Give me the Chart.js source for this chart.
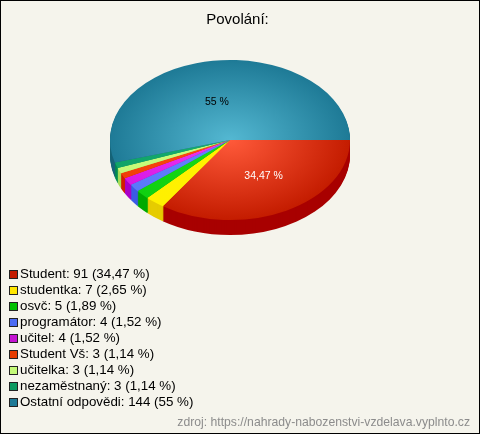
<!DOCTYPE html>
<html>
<head>
<meta charset="utf-8">
<style>
    html, body { margin: 0; padding: 0; background: #f5f4ec; }
    canvas { display: block; }
</style>
<script src="https://cdn.jsdelivr.net/npm/chart.js@4"></script>
</head>
<body>
<canvas id="myChart" width="480" height="434"></canvas>
<script>
// Data
const categories = ['Student', 'studentka', 'osvč', 'programátor', 'učitel', 'Student Vš', 'učitelka', 'nezaměstnaný', 'Ostatní odpovědi'];
const answers = [91, 7, 5, 4, 4, 3, 3, 3, 144];
const percents = ['34,47', '2,65', '1,89', '1,52', '1,52', '1,14', '1,14', '1,14', '55'];

// Slice colours
const innerColors = ['#ff5a3a', '#fff200', '#18dc18', '#6484ff', '#ee3cf4', '#ff4a14', '#ccff80', '#16ac70', '#54b8d2'];
const outerColors = ['#c41c00', '#fff000', '#10d010', '#5a78fa', '#d818e4', '#f04008', '#c4fa78', '#10a468', '#1e7a96'];
const sideColors = ['#a80000', '#e6cc00', '#00aa00', '#3c5ae6', '#aa00c8', '#d21e00', '#a8dc5a', '#008c50', '#176478'];
const swatchColors = ['#c41c00', '#ffe600', '#00c000', '#4c6cf4', '#c414d2', '#e63c00', '#c4fa78', '#0c9a60', '#1e7a96'];

// Labels sit a little off the arc centre in the reference
const sliceLabels = { 0: { color: '#ffffff', dx: 5.5, dy: 1 }, 8: { color: '#000000', dx: -4.5, dy: 2 } };

const PIE_Y = 140;
const SQUASH = 2 / 3;
const DEPTH = 15;

function sliceGradient(context) {
    const chart = context.chart;
    const i = context.dataIndex;
    const area = chart.chartArea;
    if (!area) return outerColors[i];
    const x = (area.left + area.right) / 2;
    const y = (area.top + area.bottom) / 2;
    const r = Math.min(area.width, area.height) / 2;
    const g = chart.ctx.createRadialGradient(x, y, 0, x, y, r);
    g.addColorStop(0, innerColors[i]);
    g.addColorStop(1, outerColors[i]);
    return g;
}

function squash(ctx, arc) {
    ctx.translate(0, PIE_Y);
    ctx.scale(1, SQUASH);
    ctx.translate(0, -arc.y);
}

// Tilts the pie and puts the side wall under it
const tiltPlugin = {
    id: 'tilt',
    beforeDatasetsDraw(chart) {
        const ctx = chart.ctx;
        const arcs = chart.getDatasetMeta(0).data;
        for (let d = DEPTH; d >= 1; d--) {
            arcs.forEach((arc, i) => {
                ctx.save();
                ctx.translate(0, d);
                squash(ctx, arc);
                ctx.beginPath();
                ctx.moveTo(arc.x, arc.y);
                ctx.arc(arc.x, arc.y, arc.outerRadius, arc.startAngle, arc.endAngle);
                ctx.closePath();
                ctx.fillStyle = sideColors[i];
                ctx.fill();
                ctx.restore();
            });
        }
        ctx.save();
        squash(ctx, arcs[0]);
    },
    afterDatasetsDraw(chart) {
        chart.ctx.restore();
    },
    afterDraw(chart) {
        const ctx = chart.ctx;
        const arcs = chart.getDatasetMeta(0).data;
        ctx.save();
        ctx.textBaseline = 'middle';

        // title
        ctx.textAlign = 'center';
        ctx.font = '15px "Liberation Sans"';
        ctx.fillStyle = '#000000';
        ctx.fillText('Povolání:', 237.5, 20);

        // percent labels on the big slices
        ctx.font = '10.5px "Liberation Sans"';
        Object.keys(sliceLabels).forEach((key) => {
            const arc = arcs[key];
            const p = arc.getCenterPoint();
            const label = sliceLabels[key];
            ctx.fillStyle = label.color;
            ctx.fillText(percents[key] + ' %', p.x + label.dx, PIE_Y + (p.y - arc.y) * SQUASH + label.dy);
        });

        // legend
        ctx.textAlign = 'left';
        ctx.font = '13.33px "Liberation Sans"';
        categories.forEach((name, i) => {
            const y = 274 + i * 16;
            ctx.fillStyle = swatchColors[i];
            ctx.fillRect(9, y - 4, 9, 9);
            ctx.strokeStyle = '#222222';
            ctx.lineWidth = 1;
            ctx.strokeRect(9.5, y - 3.5, 8, 8);
            ctx.fillStyle = '#000000';
            ctx.fillText(`${name}: ${answers[i]} (${percents[i]} %)`, 20, y);
        });

        // source line
        ctx.textAlign = 'right';
        ctx.font = '12.2px "Liberation Sans"';
        ctx.fillStyle = '#8c8c8c';
        ctx.fillText('zdroj: https://nahrady-nabozenstvi-vzdelava.vyplnto.cz', 470, 423);

        // frame
        ctx.strokeStyle = '#000000';
        ctx.strokeRect(0.5, 0.5, 479, 433);
        ctx.restore();
    }
};

const ctx = document.getElementById('myChart').getContext('2d');
new Chart(ctx, {
    type: 'pie',
    data: {
        labels: categories,
        datasets: [{
            data: answers,
            backgroundColor: sliceGradient,
            borderWidth: 0
        }]
    },
    options: {
        responsive: false,
        animation: false,
        rotation: 90,
        layout: { padding: { left: 110, right: 130, top: 30, bottom: 164 } },
        plugins: {
            legend: { display: false },
            tooltip: { enabled: false }
        }
    },
    plugins: [tiltPlugin]
});
</script>
</body>
</html>
